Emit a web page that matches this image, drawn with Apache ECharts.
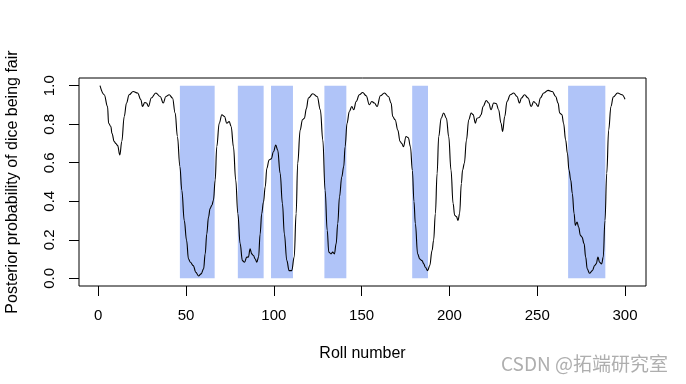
<!DOCTYPE html>
<html>
<head>
<meta charset="utf-8">
<script src="https://cdn.jsdelivr.net/npm/echarts@6/dist/echarts.min.js"></script>
<style>
html,body{margin:0;padding:0;background:#fff;}
#c{width:686px;height:384px;}
</style>
</head>
<body>
<div id="c"></div>
<script>
// Roll numbers at which the curve was read, and posterior probability of a fair die
var rollNumbers = [
  1.0, 3.4, 5.3, 5.9, 7.2, 7.8, 9.1, 10.0, 11.0, 12.3, 13.4, 14.8, 16.1, 17.6, 19.9,
  22.4, 24.3, 25.2, 26.5, 27.5, 28.6, 30.2, 32.8, 35.3, 37.0, 38.5, 40.4, 42.3, 43.8,
  45.1, 46.5, 47.6, 49.0, 50.3, 51.4, 52.5, 54.1, 55.6, 57.1, 58.6, 60.0, 60.9, 61.8,
  62.8, 63.7, 64.7, 65.6, 66.6, 67.5, 68.9, 70.4, 71.9, 73.2, 74.6, 75.7, 77.0, 78.3,
  79.5, 80.8, 82.1, 83.3, 84.6, 85.5, 86.5, 87.4, 88.4, 89.4, 90.3, 91.3, 92.2, 93.1,
  94.1, 95.1, 96.0, 97.3, 98.5, 99.8, 101.1, 102.2, 103.6, 104.9, 106.0, 107.4, 108.7,
  110.2, 111.6, 112.7, 113.6, 115.0, 116.3, 117.4, 118.5, 119.7, 122.2, 124.7, 126.5,
  127.9, 129.2, 130.4, 131.3, 132.6, 133.5, 134.5, 135.5, 136.4, 137.4, 138.7, 139.8,
  140.6, 141.7, 143.0, 144.4, 145.5, 146.9, 148.7, 150.6, 152.6, 154.4, 155.8, 157.3,
  158.8, 160.7, 163.0, 165.3, 166.8, 167.7, 169.1, 170.6, 171.9, 172.9, 173.8, 175.3,
  176.6, 177.8, 178.9, 179.8, 180.6, 181.9, 183.1, 184.4, 185.4, 186.3, 187.6, 188.8,
  190.1, 191.0, 192.0, 193.0, 193.9, 195.3, 196.7, 198.3, 199.6, 200.9, 202.1, 203.0,
  204.0, 204.9, 205.8, 206.8, 207.5, 208.5, 209.7, 211.0, 212.4, 213.5, 214.8, 215.7,
  217.0, 218.0, 219.2, 221.0, 222.4, 223.7, 225.2, 226.7, 228.0, 229.4, 230.3, 231.5,
  232.8, 234.7, 236.6, 238.5, 239.9, 241.0, 242.8, 244.8, 246.6, 248.0, 249.0, 250.5,
  251.8, 253.7, 256.2, 258.6, 260.5, 261.9, 262.8, 264.1, 265.0, 266.2, 267.2, 268.1,
  269.1, 270.0, 271.0, 271.7, 272.7, 273.6, 274.6, 275.5, 276.7, 277.6, 278.5, 279.8,
  281.4, 282.7, 283.6, 284.6, 285.5, 286.7, 287.6, 288.6, 289.6, 290.7, 292.0, 293.3,
  295.8, 298.3, 300.0
];
var probFair = [
  1.0, 0.953, 0.892, 0.805, 0.788, 0.753, 0.71, 0.70, 0.69, 0.64, 0.71, 0.84, 0.91, 0.953, 0.97,
  0.962, 0.927, 0.892, 0.913, 0.91, 0.892, 0.936, 0.962, 0.944, 0.91, 0.944, 0.953, 0.936, 0.858,
  0.736, 0.58, 0.457, 0.30, 0.197, 0.10, 0.083, 0.066, 0.031, 0.012, 0.023, 0.049, 0.127, 0.23,
  0.318, 0.362, 0.379, 0.405, 0.51, 0.683, 0.805, 0.849, 0.84, 0.805, 0.814, 0.788, 0.683, 0.51,
  0.336, 0.18, 0.092, 0.083, 0.11, 0.11, 0.153, 0.127, 0.118, 0.10, 0.083, 0.11, 0.23, 0.336,
  0.396, 0.475, 0.57, 0.614, 0.62, 0.657, 0.692, 0.666, 0.545, 0.388, 0.23, 0.092, 0.04,
  0.04, 0.11, 0.336, 0.597, 0.77, 0.823, 0.831, 0.88, 0.936, 0.958, 0.944, 0.875,
  0.718, 0.457, 0.249, 0.136, 0.127, 0.136, 0.127, 0.18, 0.284, 0.423, 0.527, 0.58,
  0.683, 0.805, 0.866, 0.892, 0.875, 0.918, 0.953, 0.965, 0.948, 0.901, 0.918, 0.91,
  0.892, 0.948, 0.962, 0.944, 0.91, 0.84, 0.823, 0.77, 0.71, 0.70, 0.683, 0.736,
  0.73, 0.683, 0.56, 0.40, 0.284, 0.127, 0.10, 0.092, 0.075, 0.057, 0.04, 0.066,
  0.144, 0.197, 0.336, 0.545, 0.736, 0.831, 0.858, 0.831, 0.736, 0.562, 0.388, 0.327,
  0.32, 0.301, 0.336, 0.492, 0.562, 0.597, 0.718, 0.823, 0.858, 0.85, 0.805, 0.831,
  0.835, 0.849, 0.892, 0.923, 0.91, 0.875, 0.91, 0.907, 0.875, 0.805, 0.762, 0.84,
  0.918, 0.953, 0.962, 0.944, 0.91, 0.936, 0.953, 0.936, 0.892, 0.918, 0.91, 0.892,
  0.936, 0.962, 0.976, 0.97, 0.944, 0.91, 0.858, 0.849, 0.805, 0.718, 0.649, 0.562,
  0.51, 0.44, 0.336, 0.275, 0.292, 0.266, 0.223, 0.214, 0.18, 0.11, 0.049, 0.026,
  0.04, 0.066, 0.075, 0.11, 0.083, 0.075, 0.11, 0.30, 0.545, 0.77, 0.892, 0.941,
  0.962, 0.953, 0.93
];
// Periods where the loaded die was used
var loadedStart = [46.5, 79.5, 98.4, 128.8, 178.8, 267.6];
var loadedEnd   = [66.3, 94.2, 110.9, 141.3, 187.8, 288.8];
var xTicks = [0, 50, 100, 150, 200, 250, 300];
var yTicks = [0, 0.2, 0.4, 0.6, 0.8, 1.0];

var FONT = '"Liberation Sans", Arial, Helvetica, sans-serif';

var lineData = rollNumbers.map(function (r, i) { return [r, probFair[i]]; });
var areas = loadedStart.map(function (s, i) {
  return [{ xAxis: s, yAxis: 0 }, { xAxis: loadedEnd[i], yAxis: 1 }];
});

var chart = echarts.init(document.getElementById('c'), null, { renderer: 'canvas' });
chart.setOption({
  animation: false,
  backgroundColor: '#ffffff',
  grid: {
    left: 79, top: 78, right: 40, bottom: 98,
    containLabel: false, outerBoundsMode: 'none',
    show: true, borderColor: '#000', borderWidth: 1, backgroundColor: 'transparent'
  },
  xAxis: {
    type: 'value',
    min: -10.96, max: 311.96,
    name: 'Roll number',
    nameLocation: 'middle',
    nameGap: 60,
    nameTextStyle: { fontFamily: FONT, fontSize: 16, color: '#000' },
    axisLine: { show: false, onZero: false },
    splitLine: { show: false },
    axisTick: { show: true, customValues: xTicks, length: 10, lineStyle: { color: '#000', width: 1 } },
    axisLabel: {
      customValues: xTicks, margin: 22, fontFamily: FONT, fontSize: 15, color: '#000',
      formatter: function (v) { return String(v); }
    }
  },
  yAxis: {
    type: 'value',
    min: -0.04, max: 1.04,
    name: 'Posterior probability of dice being fair',
    nameLocation: 'middle',
    nameRotate: 90,
    nameGap: 58,
    nameTextStyle: { fontFamily: FONT, fontSize: 16, color: '#000' },
    axisLine: { show: false, onZero: false },
    splitLine: { show: false },
    axisTick: { show: true, customValues: yTicks, length: 10, lineStyle: { color: '#000', width: 1 } },
    axisLabel: {
      customValues: yTicks, rotate: 90, margin: 22, fontFamily: FONT, fontSize: 15, color: '#000',
      formatter: function (v) { return v.toFixed(1); }
    }
  },
  graphic: [{
    type: 'text', left: 501, top: 354, z: 100,
    style: { text: 'CSDN @拓端研究室', font: '19px "Noto Sans CJK SC", "Liberation Sans", sans-serif', fill: 'rgba(160,160,160,0.85)' }
  }],
  series: [
    {
      type: 'line', data: [], z: 1, silent: true,
      markArea: { silent: true, itemStyle: { color: '#b0c4f8', opacity: 1 }, data: areas }
    },
    {
      type: 'line', data: lineData, z: 3, showSymbol: false, symbol: 'none',
      smooth: 0.4, smoothMonotone: 'x',
      lineStyle: { color: '#000', width: 1.1 }
    }
  ]
});
</script>
</body>
</html>
